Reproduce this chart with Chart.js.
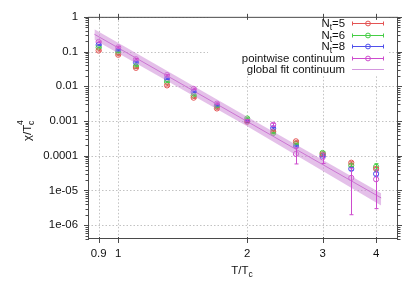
<!DOCTYPE html>
<html>
<head>
<meta charset="utf-8">
<script src="https://cdn.jsdelivr.net/npm/chart.js@4/dist/chart.umd.min.js"></script>
<style>
  html, body { margin: 0; padding: 0; background: #fff; }
</style>
</head>
<body>
<canvas id="chart" width="415" height="291"></canvas>
<script>
// ---------------------------
// Data
// ---------------------------
const temps = [0.9, 1.0, 1.1, 1.3, 1.5, 1.7, 2.0, 2.3, 2.6, 3.0, 3.5, 4.0];

const nt5    = [0.107, 0.081, 0.034, 0.0106, 0.0047, 0.0023, 0.00095, 0.00050, 0.00026, 0.00011, 6.3e-5, 4.2e-5];
const nt5Err = [0.004, 0.003, 0.0012, 0.0004, 0.0002, 0.0001, 0.00004, 0.00002, 0.00001, 0.000006, 0.000004, 0.000004];

const nt6    = [0.131, 0.095, 0.038, 0.0134, 0.0054, 0.0026, 0.00118, 0.00045, 0.00022, 0.00012, 5.3e-5, 4.8e-5];
const nt6Err = [0.005, 0.003, 0.0013, 0.0005, 0.0002, 0.0001, 0.00005, 0.00002, 0.00001, 0.000008, 0.000005, 0.000011];

const nt8    = [0.155, 0.108, 0.049, 0.0163, 0.0069, 0.0028, 0.00098, 0.00062, 0.00019, 0.00010, 4.2e-5, 3.0e-5];
const nt8Err = [0.006, 0.004, 0.0015, 0.0006, 0.0003, 0.0001, 0.00004, 0.00003, 0.00001, 0.000006, 0.000004, 0.000004];

const pointwise    = [0.189, 0.132, 0.060, 0.021, 0.0084, 0.00316, 0.00104, 0.00078, 0.000113, 0.00009, 2.3e-5, 2.1e-5];
const pointwiseErr = [0.010, 0.006, 0.003, 0.001, 0.0004, 0.00015, 0.00006, 0.00008, 0.000055, 0.00003, 0.000021, 0.000018];

// global fit continuum: central line and band
const fitT     = [0.88, 2.0, 4.11];
const fitMid   = [0.314, 0.00097, 6.1e-6];
const fitUpper = [0.436, 0.00133, 8.3e-6];
const fitLower = [0.218, 0.00071, 3.7e-6];

const xTicks = [0.9, 1, 2, 3, 4];
const xTickLabels = ["0.9", "1", "2", "3", "4"];
const yTicks = [1, 0.1, 0.01, 0.001, 0.0001, 1e-5, 1e-6];
const yTickLabels = ["1", "0.1", "0.01", "0.001", "0.0001", "1e-05", "1e-06"];

// ---------------------------
// Styling
// ---------------------------
const FONT = '"Liberation Sans", Arial, sans-serif';
const colRed = 'rgb(228,84,84)';
const colGreen = 'rgb(70,205,70)';
const colBlue = 'rgb(80,80,235)';
const colMag = 'rgb(205,75,205)';
const colFit = 'rgb(200,90,205)';
const colBand = 'rgba(205,140,215,0.55)';

const pts = (ys) => temps.map((t, i) => ({ x: t, y: ys[i] }));
const fitPts = (ys) => fitT.map((t, i) => ({ x: t, y: ys[i] }));

function pointSet(label, ys, color) {
  return {
    label, data: pts(ys), showLine: false,
    borderColor: color, backgroundColor: 'transparent',
    pointRadius: 2.6, pointBorderWidth: 1, pointStyle: 'circle'
  };
}

const errSets = [
  { idx: 3, err: nt5Err, vals: nt5, color: colRed },
  { idx: 4, err: nt6Err, vals: nt6, color: colGreen },
  { idx: 5, err: nt8Err, vals: nt8, color: colBlue },
  { idx: 6, err: pointwiseErr, vals: pointwise, color: colMag }
];

function line(ctx, x1, y1, x2, y2) {
  ctx.beginPath(); ctx.moveTo(x1, y1); ctx.lineTo(x2, y2); ctx.stroke();
}

// ---------------------------
// Frame, grid, error bars, legend, titles
// ---------------------------
const decor = {
  id: 'decor',
  beforeDatasetsDraw(chart) {
    const { ctx, chartArea: a, scales: { x, y } } = chart;
    ctx.save();
    ctx.strokeStyle = '#c2c2c2';
    ctx.lineWidth = 1;
    ctx.setLineDash([1.5, 2]);
    xTicks.forEach(v => {
      const px = Math.round(x.getPixelForValue(v)) + 0.5;
      line(ctx, px, a.top, px, a.bottom);
    });
    yTicks.forEach(v => {
      const py = Math.round(y.getPixelForValue(v)) + 0.5;
      line(ctx, a.left, py, a.right, py);
    });
    ctx.setLineDash([]);
    // opaque key area
    ctx.fillStyle = '#fff';
    ctx.fillRect(208, 17, 180, 59);
    ctx.restore();
  },
  afterDatasetsDraw(chart) {
    const { ctx, scales: { x, y } } = chart;
    ctx.save();
    ctx.lineWidth = 1;
    errSets.forEach(s => {
      ctx.strokeStyle = s.color;
      temps.forEach((t, i) => {
        const px = Math.round(x.getPixelForValue(t)) + 0.5;
        const top = y.getPixelForValue(s.vals[i] + s.err[i]);
        const bot = y.getPixelForValue(Math.max(s.vals[i] - s.err[i], 1e-9));
        line(ctx, px, top, px, bot);
        line(ctx, px - 2, top, px + 2, top);
        line(ctx, px - 2, bot, px + 2, bot);
      });
    });
    ctx.restore();
  },
  afterDraw(chart) {
    const { ctx, chartArea: a, scales: { x, y } } = chart;
    ctx.save();
    // border + ticks
    ctx.strokeStyle = '#4a4a4a';
    ctx.lineWidth = 1;
    ctx.strokeRect(a.left + 0.5, a.top + 0.5, a.right - a.left - 1, a.bottom - a.top - 1);
    xTicks.forEach(v => {
      const px = Math.round(x.getPixelForValue(v)) + 0.5;
      line(ctx, px, a.bottom - 2, px, a.bottom + 4);
      line(ctx, px, a.top - 3, px, a.top + 3);
    });
    for (let e = -7; e <= 0; e++) {
      for (let m = 1; m <= 9; m++) {
        const v = m * Math.pow(10, e);
        if (v < y.min || v > y.max) continue;
        const py = Math.round(y.getPixelForValue(v)) + 0.5;
        const len = m === 1 ? 4 : 2.5;
        line(ctx, a.left - len, py, a.left + 1, py);
        line(ctx, a.right - 1, py, a.right + len, py);
      }
    }

    // axis titles
    ctx.fillStyle = '#111';
    ctx.textBaseline = 'alphabetic';
    ctx.font = '11.4px ' + FONT;
    const wTT = ctx.measureText('T/T').width;
    ctx.font = '8.5px ' + FONT;
    const wc = ctx.measureText('c').width;
    let sx = 242 - (wTT + wc) / 2;
    ctx.font = '11.4px ' + FONT;
    ctx.textAlign = 'left';
    ctx.fillText('T/T', sx, 274);
    ctx.font = '8.5px ' + FONT;
    ctx.fillText('c', sx + wTT, 277);

    ctx.translate(31, 141);
    ctx.rotate(-Math.PI / 2);
    ctx.font = '11.4px ' + FONT;
    ctx.fillText('\u03c7/T', 0, 0);
    const wchi = ctx.measureText('\u03c7/T').width;
    ctx.font = '8.5px ' + FONT;
    ctx.fillText('c', wchi, 2.5);
    ctx.fillText('4', wchi, -8);
    ctx.setTransform(1, 0, 0, 1, 0, 0);

    // key
    const keys = [
      { main: 'N', sub: 't', rest: '=5', color: colRed, bars: true },
      { main: 'N', sub: 't', rest: '=6', color: colGreen, bars: true },
      { main: 'N', sub: 't', rest: '=8', color: colBlue, bars: true },
      { main: 'pointwise continuum', color: colMag, bars: true },
      { main: 'global fit continuum', color: 'rgb(212,150,222)', bars: false }
    ];
    keys.forEach((k, i) => {
      const cy = 23 + i * 11.5;
      const base = cy + 4;
      ctx.fillStyle = '#111';
      ctx.textAlign = 'right';
      ctx.font = '11.4px ' + FONT;
      let rx = 345;
      if (k.sub) {
        ctx.fillText(k.rest, rx, base);
        rx -= ctx.measureText(k.rest).width;
        ctx.font = '8.5px ' + FONT;
        ctx.fillText(k.sub, rx, base + 3);
        rx -= ctx.measureText(k.sub).width;
        ctx.font = '11.4px ' + FONT;
        ctx.fillText(k.main, rx, base);
      } else {
        ctx.fillText(k.main, rx, base);
      }
      ctx.strokeStyle = k.color;
      ctx.lineWidth = 1;
      const ly = Math.round(cy) + 0.5;
      line(ctx, 352, ly, 384, ly);
      if (k.bars) {
        line(ctx, 352.5, ly - 2, 352.5, ly + 2);
        line(ctx, 383.5, ly - 2, 383.5, ly + 2);
        ctx.beginPath();
        ctx.arc(368, ly, 2.4, 0, Math.PI * 2);
        ctx.stroke();
      }
    });
    ctx.restore();
  }
};

new Chart(document.getElementById('chart'), {
  type: 'scatter',
  data: {
    datasets: [
      { label: 'band upper', data: fitPts(fitUpper), showLine: true, borderWidth: 0,
        borderColor: 'transparent', backgroundColor: colBand, pointRadius: 0, fill: '+1' },
      { label: 'band lower', data: fitPts(fitLower), showLine: true, borderWidth: 0,
        borderColor: 'transparent', backgroundColor: colBand, pointRadius: 0, fill: false },
      { label: 'global fit continuum', data: fitPts(fitMid), showLine: true, borderWidth: 1,
        borderColor: colFit, pointRadius: 0, fill: false },
      pointSet('Nt=5', nt5, colRed),
      pointSet('Nt=6', nt6, colGreen),
      pointSet('Nt=8', nt8, colBlue),
      pointSet('pointwise continuum', pointwise, colMag)
    ]
  },
  options: {
    responsive: false,
    animation: false,
    events: [],
    layout: { padding: { top: 14, right: 17, left: 0, bottom: 0 } },
    plugins: { legend: { display: false }, tooltip: { enabled: false } },
    scales: {
      x: {
        type: 'logarithmic', min: 0.85, max: 4.5,
        grid: { display: false, drawTicks: false }, border: { display: false },
        afterBuildTicks: s => { s.ticks = xTicks.map(v => ({ value: v })); },
        afterFit: s => { s.height = 52; },
        ticks: {
          autoSkip: false, maxRotation: 0, padding: 8, color: '#111',
          font: { family: FONT, size: 11.4 },
          callback: (v) => { const i = xTicks.indexOf(v); return i >= 0 ? xTickLabels[i] : ''; }
        }
      },
      y: {
        type: 'logarithmic', min: 4e-7, max: 1,
        grid: { display: false, drawTicks: false }, border: { display: false },
        afterBuildTicks: s => { s.ticks = yTicks.map(v => ({ value: v })); },
        afterFit: s => { s.width = 88; },
        ticks: {
          autoSkip: false, padding: 10, color: '#111',
          font: { family: FONT, size: 11.4 },
          callback: (v) => { const i = yTicks.findIndex(t => Math.abs(t - v) / t < 1e-6); return i >= 0 ? yTickLabels[i] : ''; }
        }
      }
    }
  },
  plugins: [decor]
});
</script>
</body>
</html>
